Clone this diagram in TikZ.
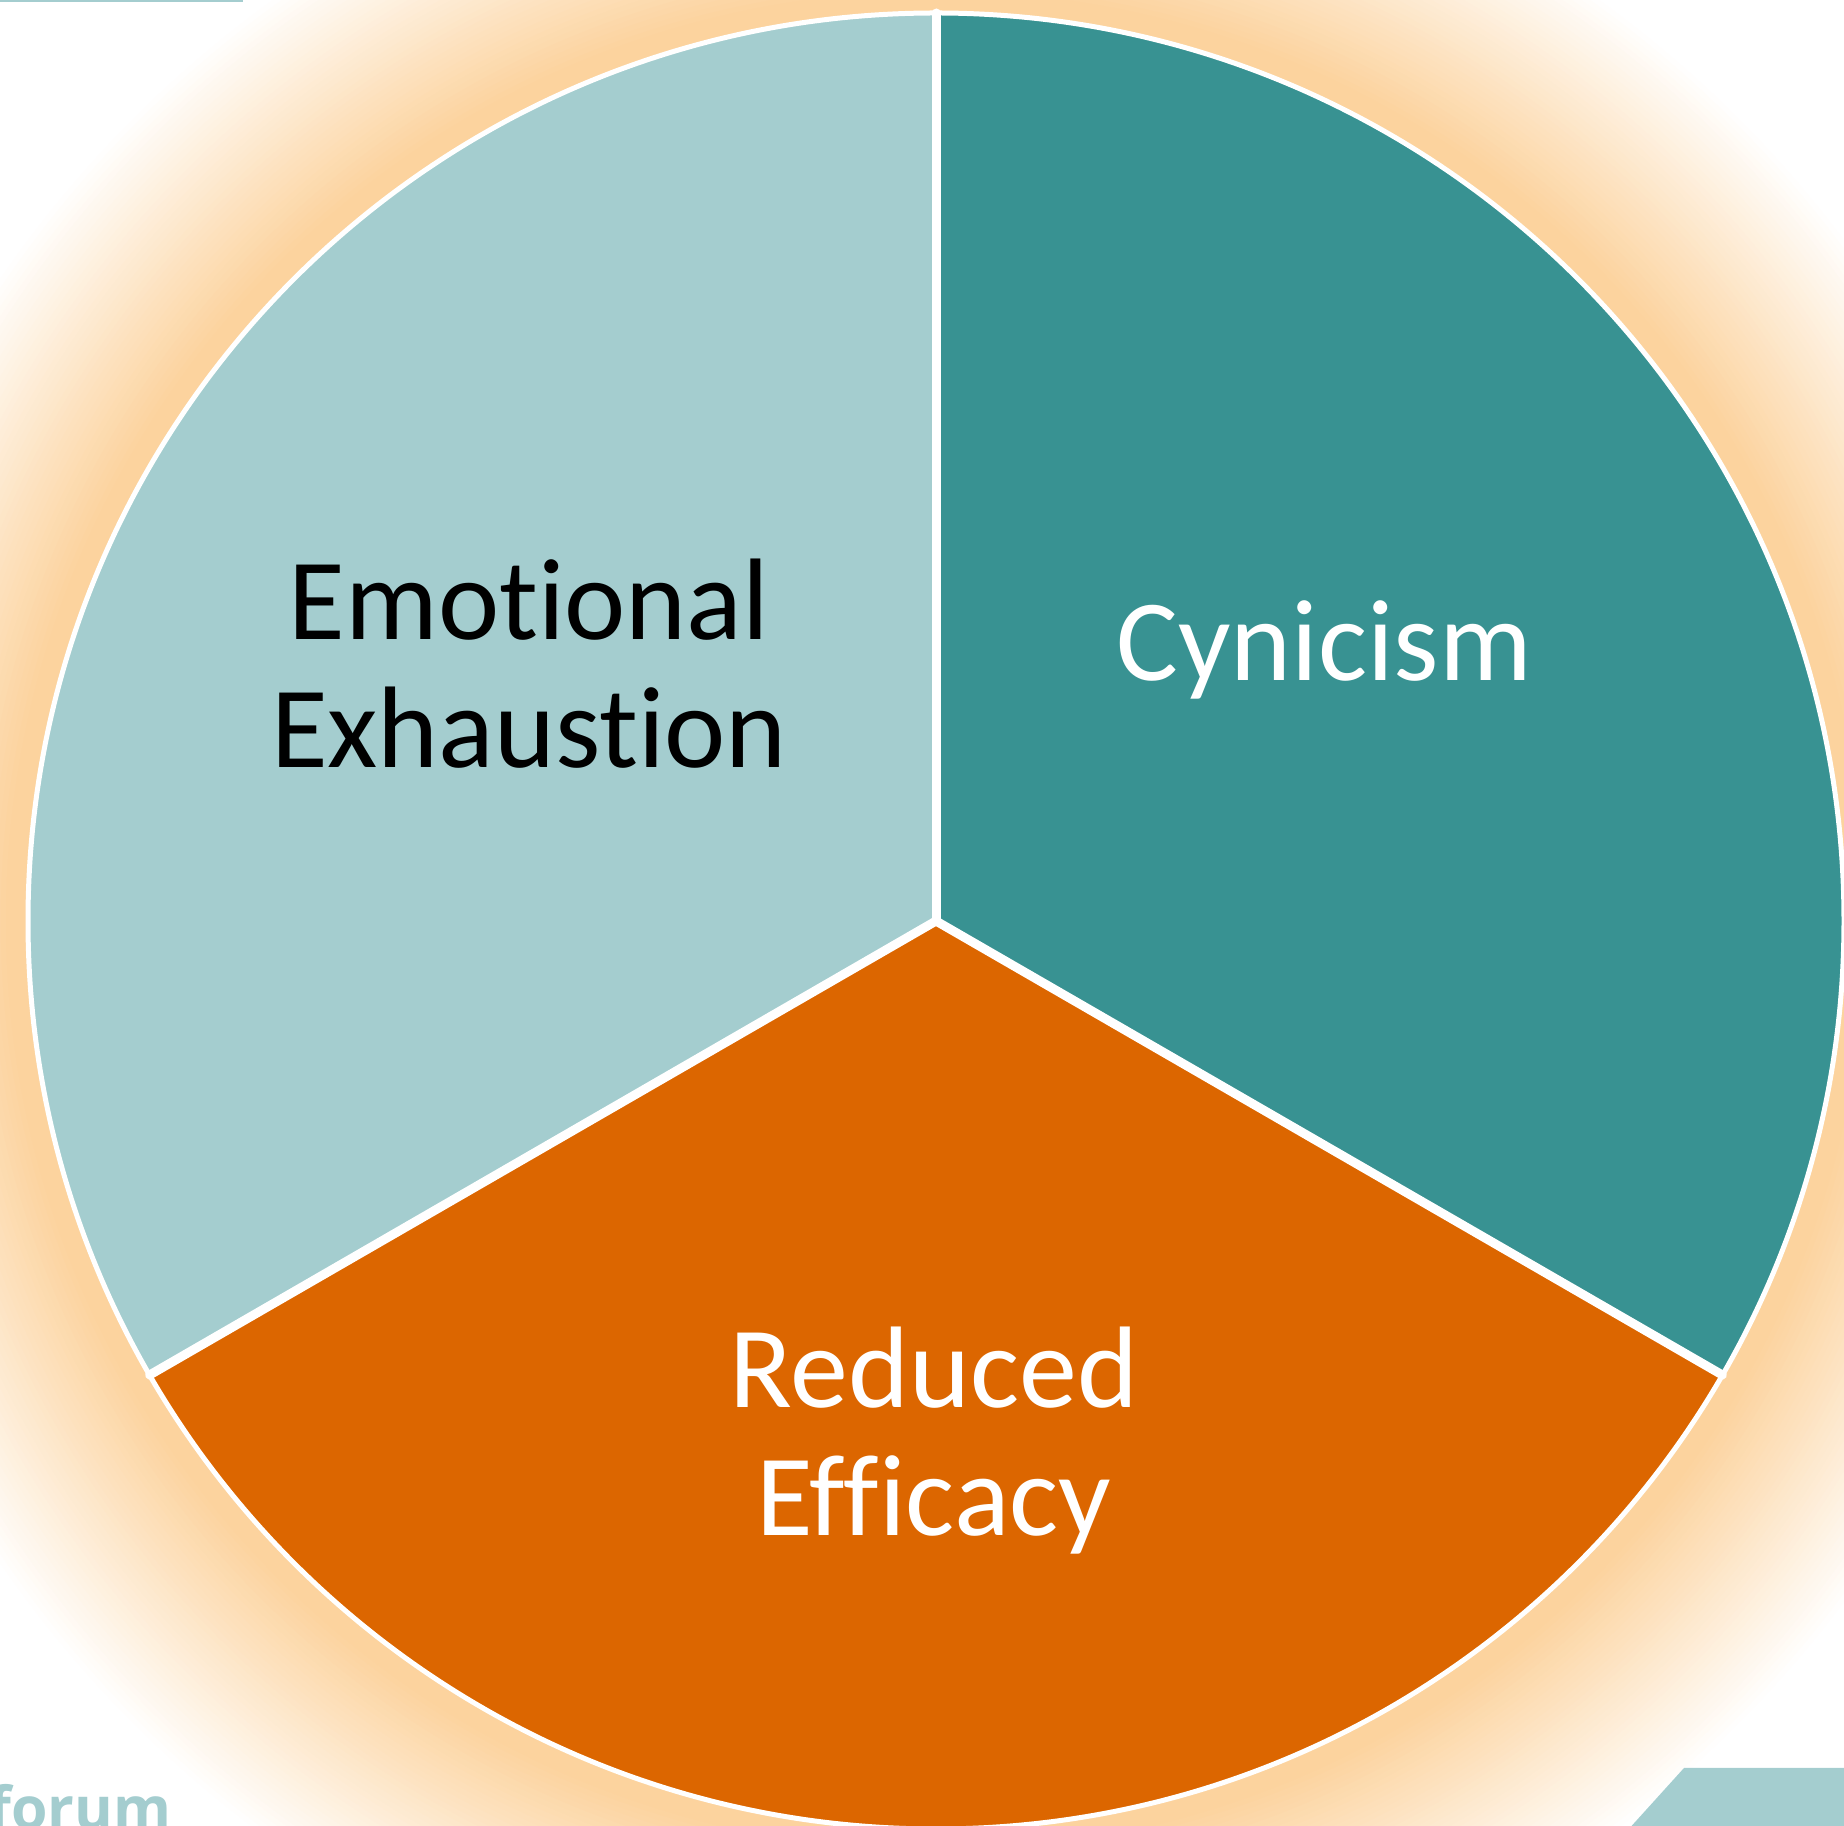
\documentclass[tikz,border=0pt]{standalone}
\usepackage{fontspec}
\setmainfont{Carlito}[Ligatures={NoCommon}]
\newfontfamily\logofont{Open Sans}
\definecolor{paleteal}{RGB}{164,205,207}
\definecolor{deepteal}{RGB}{56,146,146}
\definecolor{burnt}{RGB}{220,102,0}
\definecolor{glow}{RGB}{252,211,158}

\begin{document}
\begin{tikzpicture}[x=0.5pt, y=0.5pt,
  wedgetext/.style={font=\fontsize{58}{64}\selectfont, align=center, inner sep=0pt},
  gap/.style={white, line width=4.5pt, line cap=round}]
  \useasboundingbox (0,0) rectangle (1844,1826);
  \clip (0,0) rectangle (1844,1826);
  \coordinate (c) at (936,905);

  % soft orange halo
  \foreach \i in {0,...,40} {
    \pgfmathsetmacro\rr{1140-5.25*\i}
    \pgfmathsetmacro\pp{2.5*\i}
    \fill[glow!\pp!white] (c) circle (\rr);
  }

  \fill[paleteal] (c) -- ++(90:908) arc[start angle=90, end angle=210, radius=908] -- cycle;
  \fill[deepteal] (c) -- ++(-30:908) arc[start angle=-30, end angle=90, radius=908] -- cycle;
  \fill[burnt] (c) -- ++(210:908) arc[start angle=210, end angle=330, radius=908] -- cycle;
  \draw[white, line width=2.5pt] (c) circle (908);
  \foreach \a in {90,210,330}
    \draw[gap] (c) -- ++(\a:908);

  \node[wedgetext] at (529,1162) (exhaustion) {Emotional\\Exhaustion};
  \node[wedgetext, text=white, anchor=base] at (1324,1145) (cynicism) {Cynicism};
  \node[wedgetext, text=white] at (934,385) (efficacy) {Reduced\\Efficacy};

  % page decorations
  \fill[paleteal] (0,1824) rectangle (243,1827);
  \fill[paleteal] (1684,58) -- (1850,58) -- (1850,-5) -- (1627,-5) -- cycle;
  \node[font=\logofont\bfseries\fontsize{29.5}{30}\selectfont, text=paleteal,
        anchor=base west, inner sep=0pt] at (-12,-4) (forum) {forum};
\end{tikzpicture}
\end{document}
